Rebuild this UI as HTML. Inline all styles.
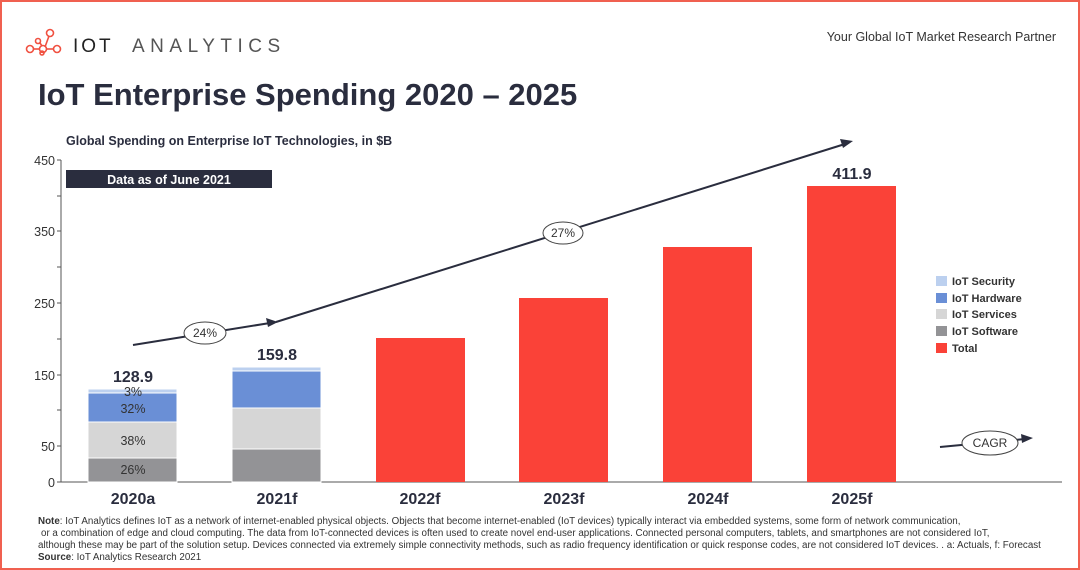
<!DOCTYPE html>
<html><head><meta charset="utf-8"><style>
body{margin:0;width:1080px;height:570px;overflow:hidden;background:#fff;font-family:"Liberation Sans",sans-serif;}
.frame{position:absolute;left:0;top:0;width:1076px;height:566px;border:2px solid #f06050;}
</style></head><body>
<div class="frame"></div>
<svg width="1080" height="570" style="position:absolute;left:0;top:0" font-family="Liberation Sans, sans-serif">
<g stroke="#f05040" stroke-width="1.6" fill="none">
<circle cx="30" cy="49" r="3.5"/><circle cx="43" cy="49" r="3.5"/><circle cx="57" cy="49" r="3.5"/><circle cx="50" cy="33" r="3.5"/><circle cx="38" cy="41" r="2.5"/><circle cx="42" cy="53" r="2"/>
<line x1="33" y1="49" x2="40" y2="49"/><line x1="46" y1="49" x2="54" y2="49"/><line x1="45" y1="47" x2="49" y2="36"/><line x1="40" y1="43" x2="42" y2="46"/>
</g>
<text x="73" y="52" font-size="19" fill="#222" letter-spacing="3">IOT</text>
<text x="132" y="52" font-size="19" fill="#555" letter-spacing="5.5">ANALYTICS</text>
<text x="1056" y="41" font-size="12.5" fill="#333" text-anchor="end">Your Global IoT Market Research Partner</text>
<text x="38" y="105" font-size="31" font-weight="bold" fill="#2a2d3e">IoT Enterprise Spending 2020 – 2025</text>
<text x="66" y="145" font-size="12.5" font-weight="bold" fill="#2a2d3e">Global Spending on Enterprise IoT Technologies, in $B</text>
<g stroke="#555" stroke-width="1">
<line x1="61" y1="160" x2="61" y2="482"/><line x1="61" y1="482" x2="1062" y2="482"/>
<line x1="57" y1="160" x2="61" y2="160"/><line x1="57" y1="196" x2="61" y2="196"/><line x1="57" y1="231" x2="61" y2="231"/><line x1="57" y1="267" x2="61" y2="267"/><line x1="57" y1="303" x2="61" y2="303"/><line x1="57" y1="339" x2="61" y2="339"/><line x1="57" y1="375" x2="61" y2="375"/><line x1="57" y1="410" x2="61" y2="410"/><line x1="57" y1="446" x2="61" y2="446"/><line x1="57" y1="482" x2="61" y2="482"/>
</g>
<g font-size="12.5" fill="#333" text-anchor="end">
<text x="55" y="165">450</text><text x="55" y="236">350</text><text x="55" y="308">250</text><text x="55" y="380">150</text><text x="55" y="451">50</text><text x="55" y="487">0</text>
</g>
<rect x="66" y="170" width="206" height="18" fill="#2a2d3e"/>
<text x="169" y="184" font-size="12.5" font-weight="bold" fill="#fff" text-anchor="middle">Data as of June 2021</text>
<g stroke="#fff" stroke-width="1">
<rect x="88" y="458" width="89" height="24" fill="#939396"/><rect x="88" y="422" width="89" height="36" fill="#d6d6d6"/><rect x="88" y="393" width="89" height="29" fill="#6a8fd6"/><rect x="88" y="389" width="89" height="4" fill="#bcd0ef"/>
<rect x="232" y="449" width="89" height="33" fill="#939396"/><rect x="232" y="408" width="89" height="41" fill="#d6d6d6"/><rect x="232" y="371" width="89" height="37" fill="#6a8fd6"/><rect x="232" y="367" width="89" height="4" fill="#bcd0ef"/>
</g>
<g fill="#fa4238">
<rect x="376" y="338" width="89" height="144"/><rect x="519" y="298" width="89" height="184"/><rect x="663" y="247" width="89" height="235"/><rect x="807" y="186" width="89" height="296"/>
</g>
<g font-size="12.5" fill="#333" text-anchor="middle">
<text x="133" y="396">3%</text><text x="133" y="413">32%</text><text x="133" y="445">38%</text><text x="133" y="474">26%</text>
</g>
<g font-size="16" font-weight="bold" fill="#2a2d3e" text-anchor="middle">
<text x="133" y="382">128.9</text><text x="277" y="360">159.8</text><text x="852" y="179">411.9</text>
<text x="133" y="504">2020a</text><text x="277" y="504">2021f</text><text x="420" y="504">2022f</text><text x="564" y="504">2023f</text><text x="708" y="504">2024f</text><text x="852" y="504">2025f</text>
</g>
<g stroke="#2a2d3e" stroke-width="2" fill="none">
<line x1="133" y1="345" x2="270" y2="323"/><line x1="276" y1="322" x2="845" y2="144"/><line x1="940" y1="447" x2="1025" y2="439"/>
</g>
<g fill="#2a2d3e"><polygon points="278,322 266,318 268,327"/><polygon points="853,141 840,139 843,148"/><polygon points="1033,438 1021,434 1022,443"/></g>
<g fill="#fff" stroke="#444" stroke-width="1"><ellipse cx="205" cy="333" rx="21" ry="11"/><ellipse cx="563" cy="233" rx="20" ry="11"/><ellipse cx="990" cy="443" rx="28" ry="12"/></g>
<g font-size="12" fill="#333" text-anchor="middle"><text x="205" y="337">24%</text><text x="563" y="237">27%</text><text x="990" y="447">CAGR</text></g>
<g font-size="11" font-weight="bold" fill="#333">
<rect x="936" y="276" width="11" height="10" fill="#bcd0ef"/><text x="952" y="285">IoT Security</text>
<rect x="936" y="293" width="11" height="10" fill="#6a8fd6"/><text x="952" y="302">IoT Hardware</text>
<rect x="936" y="309" width="11" height="10" fill="#d6d6d6"/><text x="952" y="318">IoT Services</text>
<rect x="936" y="326" width="11" height="10" fill="#939396"/><text x="952" y="335">IoT Software</text>
<rect x="936" y="343" width="11" height="10" fill="#fa4238"/><text x="952" y="352">Total</text>
</g>
<g font-size="9.8" fill="#333">
<text x="38" y="524"><tspan font-weight="bold">Note</tspan>: IoT Analytics defines IoT as a network of internet-enabled physical objects. Objects that become internet-enabled (IoT devices) typically interact via embedded systems, some form of network communication,</text>
<text x="41" y="536">or a combination of edge and cloud computing. The data from IoT-connected devices is often used to create novel end-user applications. Connected personal computers, tablets, and smartphones are not considered IoT,</text>
<text x="38" y="548">although these may be part of the solution setup. Devices connected via extremely simple connectivity methods, such as radio frequency identification or quick response codes, are not considered IoT devices. . a: Actuals, f: Forecast</text>
<text x="38" y="560"><tspan font-weight="bold">Source</tspan>: IoT Analytics Research 2021</text>
</g>
</svg>
</body></html>
